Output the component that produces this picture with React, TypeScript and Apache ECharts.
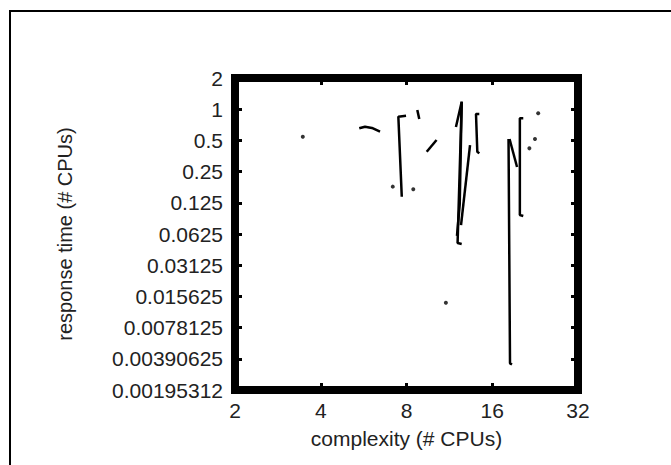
import React, { useEffect, useRef } from "react";
import * as echarts from "echarts";

const xTickLabels = ["2", "4", "8", "16", "32"];
const yTickLabels = [
  "0.00195312", "0.00390625", "0.0078125", "0.015625", "0.03125",
  "0.0625", "0.125", "0.25", "0.5", "1", "2",
];
const xTitle = "complexity (# CPUs)";
const yTitle = "response time (# CPUs)";

// traces (x = #CPUs, y = response time)
const traceCurve = [[5.46, 0.654], [5.72, 0.678], [6.05, 0.659], [6.46, 0.607]];
const traceBracket8 = [[7.97, 0.865], [7.49, 0.847], [7.7, 0.143]];
const traceMark9 = [[8.73, 0.982], [8.87, 0.804]];
const traceDiag10 = [[9.42, 0.389], [10.2, 0.504]];
const traceSpikeA = [[11.93, 0.673], [12.5, 1.18], [12.09, 0.0512], [12.5, 0.0501]];
const traceSpikeB = [[12.5, 1.18], [12.3, 0.12], [12.03, 0.06]];
const traceSpikeC = [[13.37, 0.451], [12.43, 0.0763]];
const traceBracket14 = [[14.41, 0.899], [14.03, 0.899], [14.18, 0.389], [14.41, 0.375]];
const traceLong18 = [[18.25, 0.516], [18.47, 0.00353], [18.77, 0.00344]];
const traceDiag19 = [[18.4, 0.516], [19.55, 0.277]];
const traceBracket20 = [[20.56, 0.817], [20.0, 0.817], [20.0, 0.0953], [20.56, 0.0932]];
const dots = [
  [3.46, 0.543], [7.16, 0.179], [8.45, 0.169], [11.0, 0.0136],
  [23.2, 0.913], [22.6, 0.516], [21.6, 0.419],
];

const traces = [
  traceCurve, traceBracket8, traceMark9, traceDiag10, traceSpikeA, traceSpikeB,
  traceSpikeC, traceBracket14, traceLong18, traceDiag19, traceBracket20,
];

const FONT = "'Liberation Sans', Arial, sans-serif";

export default function App() {
  const ref = useRef<HTMLDivElement>(null);
  useEffect(() => {
    if (!ref.current) return;
    const chart = echarts.init(ref.current, undefined, { renderer: "svg" });
    const xFmt = (v: number) => xTickLabels[Math.round(Math.log2(v)) - 1] ?? "";
    const yFmt = (v: number) => yTickLabels[Math.round(Math.log2(v)) + 9] ?? "";
    const tick = { show: true, inside: true, length: 7, lineStyle: { color: "#000", width: 3 } };
    const baseX = {
      type: "log" as const, logBase: 2, min: 2, max: 32, interval: 1,
      axisLine: { show: false }, splitLine: { show: false }, axisTick: tick,
    };
    const baseY = {
      type: "log" as const, logBase: 2, min: 0.001953125, max: 2, interval: 1,
      axisLine: { show: false }, splitLine: { show: false }, axisTick: tick,
    };
    chart.setOption({
      animation: false,
      backgroundColor: "#fff",
      grid: { left: 235, right: 93, top: 78, bottom: 75, show: true, borderColor: "#000", borderWidth: 8, backgroundColor: "transparent" },
      graphic: [
        { type: "rect", shape: { x: 10, y: 11, width: 700, height: 500 }, style: { fill: "none", stroke: "#000", lineWidth: 2 }, silent: true },
      ],
      xAxis: [
        {
          ...baseX, position: "bottom",
          axisLabel: { formatter: xFmt, fontSize: 21, color: "#222", fontFamily: FONT, margin: 10 },
          name: xTitle, nameLocation: "middle", nameGap: 38,
          nameTextStyle: { fontSize: 21, color: "#222", fontFamily: FONT },
        },
        { ...baseX, position: "top", axisLabel: { show: false } },
      ],
      yAxis: [
        {
          ...baseY, position: "left",
          axisLabel: { formatter: yFmt, fontSize: 21, color: "#222", fontFamily: FONT, margin: 12 },
          name: yTitle, nameLocation: "middle", nameGap: 160, nameRotate: 90,
          nameTextStyle: { fontSize: 20, color: "#222", fontFamily: FONT },
        },
        { ...baseY, position: "right", axisLabel: { show: false } },
      ],
      series: [
        ...traces.map((t) => ({
          type: "line", data: t, showSymbol: false, symbol: "none",
          lineStyle: { color: "#000", width: 2.5 }, z: 5,
        })),
        { type: "scatter", data: dots, symbolSize: 4, itemStyle: { color: "#000" }, z: 5 },
      ],
    });
    return () => chart.dispose();
  }, []);
  return (
    <div
      ref={ref}
      style={{ position: "absolute", left: 0, top: 0, width: 671, height: 465 }}
    />
  );
}
